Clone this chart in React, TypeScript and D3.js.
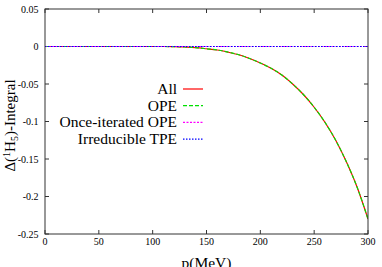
import React from "react";
import * as d3 from "d3";

const momenta = [0, 10, 20, 30, 40, 50, 60, 70, 80, 90, 100, 110, 120, 130, 140, 150, 160, 170, 180, 190, 200, 210, 220, 230, 240, 250, 260, 270, 280, 290, 300];
const allValues = [0, 0, 0, 0, 0, 0, 0, 0, 0, 0, 0, 0, -0.0002, -0.0007, -0.0015, -0.003, -0.0047, -0.0075, -0.011, -0.016, -0.022, -0.029, -0.038, -0.050, -0.064, -0.081, -0.101, -0.125, -0.154, -0.188, -0.23];
const opeValues = [0, 0, 0, 0, 0, 0, 0, 0, 0, 0, 0, 0, -0.0002, -0.0007, -0.0015, -0.003, -0.0047, -0.0075, -0.011, -0.016, -0.022, -0.029, -0.038, -0.050, -0.064, -0.081, -0.101, -0.125, -0.154, -0.188, -0.23];
const onceIteratedValues = [0, 0, 0, 0, 0, 0, 0, 0, 0, 0, 0, 0, 0, 0, 0, 0, 0, 0, 0, 0, 0, 0, 0, 0, 0, 0, 0, 0, 0, 0, 0];
const irreducibleValues = [0, 0, 0, 0, 0, 0, 0, 0, 0, 0, 0, 0, 0, 0, 0, 0, 0, 0, 0, 0, 0, 0, 0, 0, 0, 0, 0, 0, 0, 0, 0];
const xTicks = [0, 50, 100, 150, 200, 250, 300];
const yTicks = [0.05, 0, -0.05, -0.1, -0.15, -0.2, -0.25];
const yTickLabels = ["0.05", "0", "-0.05", "-0.1", "-0.15", "-0.2", "-0.25"];
const seriesNames = ["All", "OPE", "Once-iterated OPE", "Irreducible TPE"];
const seriesColors = ["#ff0000", "#00e000", "#ff00ff", "#0000ff"];
const seriesDash = ["none", "4,2", "2,1.5", "1.5,1.5"];

const FONT = '"Liberation Serif"';

export default function App() {
  const W = 382, H = 267;
  const left = 45, right = 368, top = 9, bottom = 234;
  const x = d3.scaleLinear().domain([0, 300]).range([left, right]);
  const y = d3.scaleLinear().domain([-0.25, 0.05]).range([bottom, top]);
  const line = d3.line<number>().x((_, i) => x(momenta[i])).y((d) => y(d)).curve(d3.curveMonotoneX);
  const series = [allValues, opeValues, onceIteratedValues, irreducibleValues];
  const ts = { fontFamily: FONT };
  const tl = 4;
  return (
    <svg width={W} height={H} style={{ position: "absolute", left: 0, top: 0, background: "#fff" }}>
      <defs>
        <clipPath id="plot">
          <rect x={left} y={top} width={right - left} height={bottom - top} />
        </clipPath>
      </defs>
      {xTicks.map((t) => (
        <g key={"x" + t}>
          <line x1={x(t)} x2={x(t)} y1={bottom} y2={bottom - tl} stroke="#333" />
          <line x1={x(t)} x2={x(t)} y1={top} y2={top + tl} stroke="#333" />
          <text x={x(t)} y={245} fontSize={10} textAnchor="middle" fill="#000" style={ts}>{t}</text>
        </g>
      ))}
      {yTicks.map((t, i) => (
        <g key={"y" + i}>
          <line x1={left} x2={left + tl} y1={y(t)} y2={y(t)} stroke="#333" />
          <line x1={right} x2={right - tl} y1={y(t)} y2={y(t)} stroke="#333" />
          <text x={38.5} y={y(t) + 3.5} fontSize={10} textAnchor="end" fill="#000" style={ts}>{yTickLabels[i]}</text>
        </g>
      ))}
      <g clipPath="url(#plot)">
        {series.map((s, i) => (
          <path key={i} d={line(s) || ""} fill="none" stroke={seriesColors[i]} strokeWidth={1.2}
            strokeDasharray={seriesDash[i]} />
        ))}
      </g>
      <rect x={left} y={top} width={right - left} height={bottom - top} fill="none" stroke="#333" strokeWidth={1} />
      {seriesNames.map((n, i) => {
        const ly = 89 + i * 16.7;
        return (
          <g key={n}>
            <text x={177} y={ly + 5} fontSize={15.5} textAnchor="end" fill="#000" style={ts}>{n}</text>
            <line x1={183} x2={203} y1={ly} y2={ly} stroke={seriesColors[i]} strokeWidth={1.2} strokeDasharray={seriesDash[i]} />
          </g>
        );
      })}
      <text x={(left + right) / 2} y={268} fontSize={15.5} textAnchor="middle" fill="#000" style={ts}>p(MeV)</text>
      <text transform={`translate(15, ${(top + bottom) / 2 + 4}) rotate(-90)`} fontSize={15} textAnchor="middle" fill="#000" style={ts}>
        Δ(<tspan dy={-5} fontSize={10}>1</tspan><tspan dy={5}>H</tspan><tspan dy={3} fontSize={10}>5</tspan><tspan dy={-3}>)-Integral</tspan>
      </text>
    </svg>
  );
}
